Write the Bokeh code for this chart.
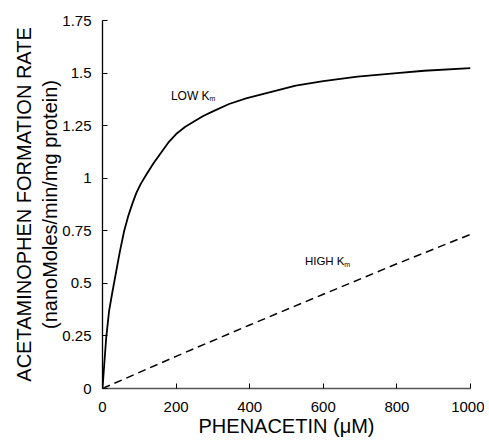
from bokeh.plotting import figure
from bokeh.models import Range1d, FixedTicker, Label
from bokeh.embed import file_html
from bokeh.resources import INLINE

# Low Km curve
low_x = [0, 5, 10, 18, 27, 36, 47, 59, 70, 81, 92, 104, 120, 140, 163, 180, 200,
         225, 253, 275, 300, 344, 390, 435, 525, 600, 693, 800, 874, 1000]
low_y = [0, 0.12, 0.24, 0.37, 0.46, 0.545, 0.65, 0.75, 0.82, 0.878, 0.93, 0.973,
         1.02, 1.075, 1.131, 1.172, 1.21, 1.245, 1.274, 1.297, 1.318, 1.353, 1.38,
         1.40, 1.44, 1.462, 1.483, 1.50, 1.511, 1.524]

# High Km curve
high_x = [0, 200, 400, 600, 800, 1000]
high_y = [0, 0.153, 0.302, 0.448, 0.593, 0.733]

x_ticks = [0, 200, 400, 600, 800, 1000]
x_tick_labels = ["0", "200", "400", "600", "800", "1000"]
y_ticks = [0, 0.25, 0.5, 0.75, 1.0, 1.25, 1.5, 1.75]
y_tick_labels = ["0", "0.25", "0.5", "0.75", "1", "1.25", "1.5", "1.75"]

FONT = "Liberation Sans"

p = figure(frame_width=368, frame_height=368, output_backend="svg",
           toolbar_location=None, x_range=Range1d(0, 1000), y_range=Range1d(0, 1.75),
           min_border_left=102, min_border_top=20, min_border_right=14, min_border_bottom=50)
p.outline_line_color = None
p.grid.grid_line_color = None
p.background_fill_color = "white"
p.border_fill_color = "white"

p.line(low_x, low_y, line_color="black", line_width=1.8)
p.line(high_x, high_y, line_color="black", line_width=1.5, line_dash="8 5")

for ax, ticks, labels in ((p.xaxis[0], x_ticks, x_tick_labels), (p.yaxis[0], y_ticks, y_tick_labels)):
    ax.ticker = FixedTicker(ticks=ticks)
    ax.major_label_overrides = {t: l for t, l in zip(ticks, labels)}
    ax.major_tick_in = 5
    ax.major_tick_out = 0
    ax.minor_tick_in = 0
    ax.minor_tick_out = 0
    ax.major_label_text_font = FONT
    ax.major_label_text_font_size = "15px"
    ax.major_label_text_color = "black"
    ax.axis_label_text_font = FONT
    ax.axis_label_text_font_style = "normal"
    ax.axis_label_text_color = "black"
    ax.axis_label_text_font_size = "20px"
    ax.major_tick_line_color = "black"

p.xaxis.major_label_standoff = 13
p.yaxis.major_label_standoff = 11
p.xaxis.axis_label = "PHENACETIN (\u03bcM)"
p.xaxis.axis_label_standoff = 0
p.xaxis.axis_line_color = "#555555"
p.xaxis.axis_line_width = 1.5
p.yaxis.axis_label = "ACETAMINOPHEN FORMATION RATE\n(nanoMoles/min/mg protein)"
p.yaxis.axis_label_standoff = -2
p.yaxis.axis_line_color = "black"
p.yaxis.axis_line_width = 1.3

def add_label(x, y, text, size):
    p.add_layout(Label(x=x, y=y, text=text, text_font=FONT, text_font_size=size,
                       text_color="black", text_baseline="alphabetic", text_align="left"))

add_label(186, 1.393, "LOW K", "12px")
add_label(291, 1.381, "m", "7px")
add_label(550, 0.605, "HIGH K", "11.5px")
add_label(657, 0.592, "m", "7px")

open("out.html", "w").write(file_html(p, INLINE))
